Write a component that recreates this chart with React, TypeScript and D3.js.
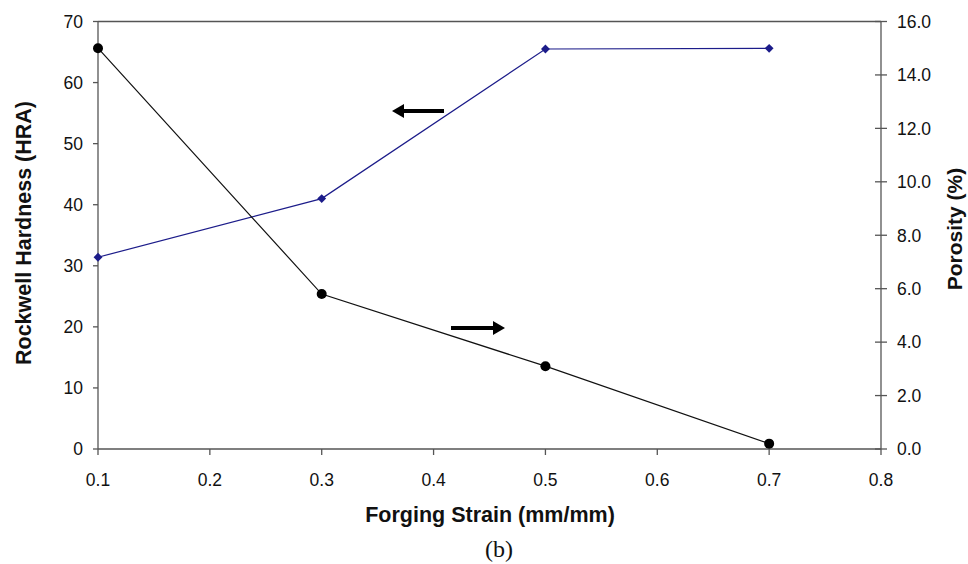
import React from "react";
import * as d3 from "d3";

const strain = [0.1, 0.3, 0.5, 0.7];
const hardness = [31.4, 41.0, 65.5, 65.6];
const porosity = [15.0, 5.8, 3.1, 0.2];
const xTicks = [0.1, 0.2, 0.3, 0.4, 0.5, 0.6, 0.7, 0.8];
const leftTicks = [0, 10, 20, 30, 40, 50, 60, 70];
const rightTicks = [0, 2, 4, 6, 8, 10, 12, 14, 16];

const W = 968, H = 564;
const L = 98, R = 881, T = 21.5, B = 449;
const font = "Liberation Sans, Arial, sans-serif";

export default function App() {
  const x = d3.scaleLinear().domain([0.1, 0.8]).range([L, R]);
  const yL = d3.scaleLinear().domain([0, 70]).range([B, T]);
  const yR = d3.scaleLinear().domain([0, 16]).range([B, T]);
  const lineH = d3.line<number>().x((_, i) => x(strain[i])).y((d) => yL(d));
  const lineP = d3.line<number>().x((_, i) => x(strain[i])).y((d) => yR(d));
  const axisColor = "#555";
  const blue = "#1c1c8a";
  const tickFs = 17.5;
  return (
    <svg width={W} height={H} style={{ position: "absolute", left: 0, top: 0, background: "#fff" }}>
      <rect x={0} y={0} width={W} height={H} fill="#fff" />
      {/* frame */}
      <line x1={L} x2={R} y1={T} y2={T} stroke={axisColor} strokeWidth={1.3} />
      <line x1={L} x2={R} y1={B} y2={B} stroke={axisColor} strokeWidth={1.3} />
      <line x1={L} x2={L} y1={T} y2={B} stroke={axisColor} strokeWidth={1.3} />
      <line x1={R} x2={R} y1={T} y2={B} stroke={axisColor} strokeWidth={1.3} />
      {/* left ticks */}
      {leftTicks.map((t) => (
        <g key={"l" + t}>
          <line x1={L - 5} x2={L} y1={yL(t)} y2={yL(t)} stroke={axisColor} strokeWidth={1.3} />
          <text x={L - 15} y={yL(t)} dy="0.36em" textAnchor="end" fontFamily={font} fontSize={tickFs} fill="#111">
            {t}
          </text>
        </g>
      ))}
      {/* right ticks */}
      {rightTicks.map((t) => (
        <g key={"r" + t}>
          <line x1={R - 6} x2={R + 6} y1={yR(t)} y2={yR(t)} stroke={axisColor} strokeWidth={1.3} />
          <text x={R + 16} y={yR(t)} dy="0.36em" textAnchor="start" fontFamily={font} fontSize={tickFs} fill="#111">
            {t.toFixed(1)}
          </text>
        </g>
      ))}
      {/* bottom ticks */}
      {xTicks.map((t) => (
        <g key={"x" + t}>
          <line x1={x(t)} x2={x(t)} y1={B} y2={B + 6} stroke={axisColor} strokeWidth={1.3} />
          <text x={x(t)} y={B + 37} textAnchor="middle" fontFamily={font} fontSize={tickFs} fill="#111">
            {t.toFixed(1)}
          </text>
        </g>
      ))}
      {/* series */}
      <path d={lineH(hardness) || ""} fill="none" stroke={blue} strokeWidth={1.2} />
      {hardness.map((v, i) => (
        <path
          key={"h" + i}
          d={d3.symbol(d3.symbolDiamond2, 50)() || ""}
          transform={`translate(${x(strain[i])},${yL(v)})`}
          fill={blue}
        />
      ))}
      <path d={lineP(porosity) || ""} fill="none" stroke="#111" strokeWidth={1.2} />
      {porosity.map((v, i) => (
        <circle key={"p" + i} cx={x(strain[i])} cy={yR(v)} r={5} fill="#000" />
      ))}
      {/* arrows */}
      <g>
        <line x1={444} x2={402} y1={111} y2={111} stroke="#000" strokeWidth={4} />
        <path d="M392,111 L404,104 L404,118 Z" fill="#000" />
      </g>
      <g>
        <line x1={451} x2={494} y1={328} y2={328} stroke="#000" strokeWidth={4} />
        <path d="M505,328 L493,321 L493,335 Z" fill="#000" />
      </g>
      {/* axis titles */}
      <text
        transform={`translate(31,233) rotate(-90)`}
        textAnchor="middle"
        fontFamily={font}
        fontWeight="bold"
        fontSize={21.5}
        fill="#111"
      >
        Rockwell Hardness (HRA)
      </text>
      <text
        transform={`translate(962,229) rotate(-90)`}
        textAnchor="middle"
        fontFamily={font}
        fontWeight="bold"
        fontSize={21}
        fill="#111"
      >
        Porosity (%)
      </text>
      <text x={490} y={522} textAnchor="middle" fontFamily={font} fontWeight="bold" fontSize={21.5} fill="#111">
        Forging Strain (mm/mm)
      </text>
      <text x={499} y={557} textAnchor="middle" fontFamily="Liberation Serif, Times New Roman, serif" fontSize={24} fill="#111">
        (b)
      </text>
    </svg>
  );
}
